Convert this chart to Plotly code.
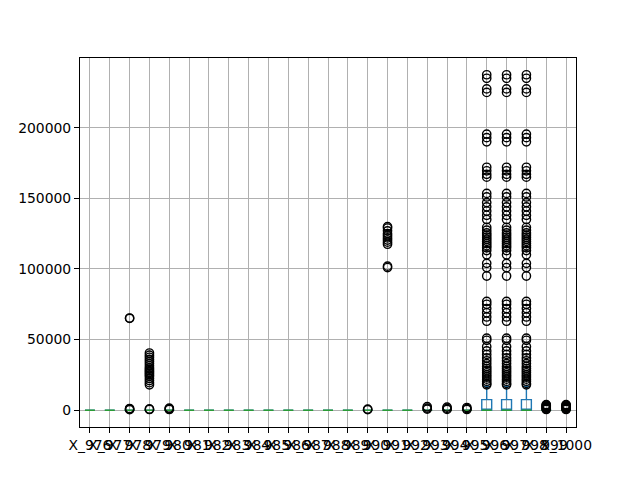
import plotly.graph_objects as go

columns = ["X_976", "X_977", "X_978", "X_979", "X_980", "X_981", "X_982", "X_983",
           "X_984", "X_985", "X_986", "X_987", "X_988", "X_989", "X_990", "X_991",
           "X_992", "X_993", "X_994", "X_995", "X_996", "X_997", "X_998", "X_999",
           "X_1000"]

q1_values = [0] * 25
median_values = [0] * 25
q3_values = [0, 0, 0, 0, 0, 0, 0, 0, 0, 0, 0, 0, 0, 0, 0, 0, 0, 0, 0, 0,
             7500, 7500, 7500, 0, 0]
lower_whisker = [0] * 25
upper_whisker = [0, 0, 0, 0, 0, 0, 0, 0, 0, 0, 0, 0, 0, 0, 0, 0, 0, 0, 0, 0,
                 17000, 17000, 17000, 0, 0]

outliers_x978 = [65300, 65000, 1200, 800, 400]
outliers_x979 = [40500, 39000, 37500, 36000, 34500, 33000, 31500, 30000, 29000, 28000,
                 27000, 26000, 25000, 24000, 22500, 21000, 19500, 18000, 900, 500]
outliers_x980 = [1500, 1000, 500]
outliers_x990 = [800, 400]
outliers_x991 = [130000, 129000, 127000, 125000, 123500, 122000, 120500, 119000,
                 117500, 102000, 101000]
outliers_x993 = [2500, 1500, 800]
outliers_x994 = [2200, 1300, 600]
outliers_x995 = [1900, 1100, 500]
outliers_x996 = [237500, 235000, 227500, 225000, 195500, 193000, 190000, 172000,
                 169500, 167000, 165000, 153500, 151000, 147000, 144000, 141000,
                 138000, 135000, 129500, 127500, 125500, 124000, 122500, 121000,
                 119500, 118000, 116500, 115000, 113000, 110000, 104000, 101000,
                 95000, 77000, 75000, 72000, 69000, 66000, 63000, 51000, 49500,
                 45000, 42000, 39500, 37000, 35000, 33000, 31000, 29500, 28000,
                 26500, 25000, 23500, 22000, 20500, 19000, 18000]
outliers_x997 = [237500, 235000, 227500, 225000, 195500, 193000, 190000, 172000,
                 169500, 167000, 165000, 153500, 151000, 147000, 144000, 141000,
                 138000, 135000, 129500, 127500, 125500, 124000, 122500, 121000,
                 119500, 118000, 116500, 115000, 113000, 110000, 104000, 101000,
                 95000, 77000, 75000, 72000, 69000, 66000, 63000, 51000, 49500,
                 45000, 42000, 39500, 37000, 35000, 33000, 31000, 29500, 28000,
                 26500, 25000, 23500, 22000, 20500, 19000, 18000]
outliers_x998 = [237500, 235000, 227500, 225000, 195500, 193000, 190000, 172000,
                 169500, 167000, 165000, 153500, 151000, 147000, 144000, 141000,
                 138000, 135000, 129500, 127500, 125500, 124000, 122500, 121000,
                 119500, 118000, 116500, 115000, 113000, 110000, 104000, 101000,
                 95000, 77000, 75000, 72000, 69000, 66000, 63000, 51000, 49500,
                 45000, 42000, 39500, 37000, 35000, 33000, 31000, 29500, 28000,
                 26500, 25000, 23500, 22000, 20500, 19000, 18000]
outliers_x999 = [4000, 3500, 3000, 2500, 2000, 1500, 1000, 500]
outliers_x1000 = [4000, 3500, 3000, 2500, 2000, 1500, 1000, 500]

outliers = {
    "X_978": outliers_x978, "X_979": outliers_x979, "X_980": outliers_x980,
    "X_990": outliers_x990, "X_991": outliers_x991, "X_993": outliers_x993,
    "X_994": outliers_x994, "X_995": outliers_x995, "X_996": outliers_x996,
    "X_997": outliers_x997, "X_998": outliers_x998, "X_999": outliers_x999,
    "X_1000": outliers_x1000,
}

positions = list(range(1, len(columns) + 1))
FONT = "DejaVu Sans"
BLUE = "#1f77b4"
GREEN = "#2ca02c"

fig = go.Figure()

fig.add_trace(go.Box(
    x=positions, q1=q1_values, median=median_values, q3=q3_values,
    lowerfence=lower_whisker, upperfence=upper_whisker,
    width=0.5, whiskerwidth=0.5, boxpoints=False,
    line=dict(color=BLUE, width=1.4), fillcolor="rgba(0,0,0,0)",
    hoverinfo="skip", showlegend=False,
))

mx, my = [], []
for p, m in zip(positions, median_values):
    mx += [p - 0.25, p + 0.25, None]
    my += [m, m, None]
fig.add_trace(go.Scatter(x=mx, y=my, mode="lines",
                         line=dict(color=GREEN, width=1.4),
                         hoverinfo="skip", showlegend=False))

ox, oy = [], []
for p, c in zip(positions, columns):
    for v in outliers.get(c, []):
        ox.append(p)
        oy.append(v)
fig.add_trace(go.Scatter(x=ox, y=oy, mode="markers",
                         marker=dict(symbol="circle-open", size=8.3, color="black",
                                     line=dict(color="black", width=1.4)),
                         hoverinfo="skip", showlegend=False))

fig.update_layout(
    width=640, height=480,
    margin=dict(l=80, r=64, t=58, b=53, pad=0),
    paper_bgcolor="white", plot_bgcolor="white",
    font=dict(family=FONT, size=13.9, color="black"),
    showlegend=False,
)
fig.update_xaxes(
    range=[0.5, 25.5], tickmode="array", tickvals=positions, ticktext=columns,
    showgrid=True, gridcolor="#b0b0b0", gridwidth=0.8,
    ticks="outside", ticklen=5, tickwidth=1.1, tickcolor="black",
    showline=True, linecolor="black", linewidth=1.1, mirror=True,
    zeroline=False, tickangle=0,
)
fig.update_yaxes(
    range=[-11875, 249375], tickmode="array",
    tickvals=[0, 50000, 100000, 150000, 200000],
    ticktext=["0", "50000", "100000", "150000", "200000"],
    showgrid=True, gridcolor="#b0b0b0", gridwidth=0.8,
    ticks="outside", ticklen=5, tickwidth=1.1, tickcolor="black",
    showline=True, linecolor="black", linewidth=1.1, mirror=True,
    zeroline=False,
)

fig.write_html("out.html")
